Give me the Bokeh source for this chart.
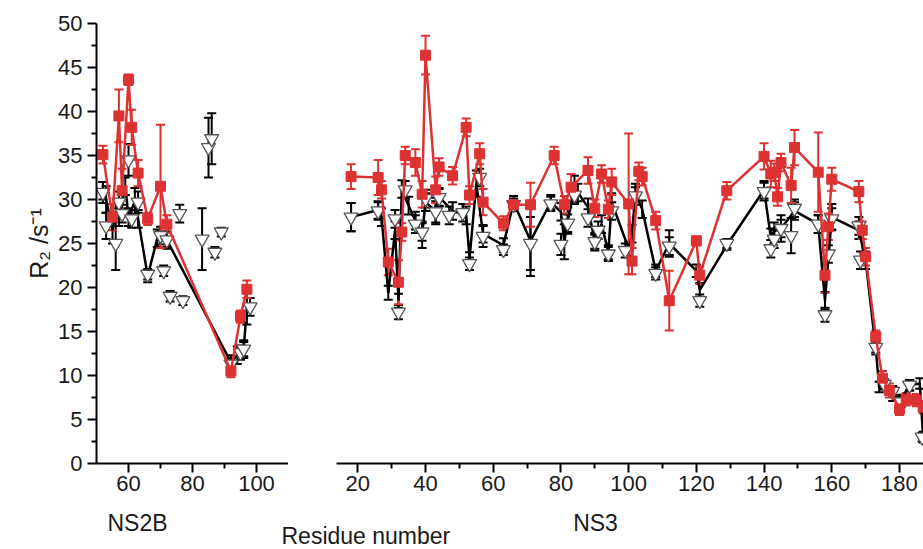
import numpy as np
from bokeh.plotting import figure
from bokeh.models import ColumnDataSource, Whisker, TeeHead, FixedTicker, Label, Title, Range1d
from bokeh.layouts import row, column
from bokeh.embed import file_html
from bokeh.resources import INLINE

RED = "#DD3232"
FONT = "Liberation Sans"
TXT = "#1a1a1a"

# ---------------- NS2B panel data ----------------
ns2b_red_x = [52, 55, 57, 58, 60, 61, 63, 66, 70, 72, 92, 95, 97]
ns2b_red_y = [35.1, 28.0, 39.5, 31.0, 43.6, 38.2, 33.0, 27.8, 31.5, 27.2, 10.5, 16.7, 19.8]
ns2b_red_err = [1.0, 1.5, 3.0, 2.5, 0.6, 2.0, 1.5, 0.7, 7.0, 1.0, 0.7, 0.7, 1.0]

ns2b_blk_x = [52, 53, 55, 56, 57, 58, 59, 60, 62, 63, 66, 69, 72, 92, 94, 96, 97]
ns2b_blk_y = [31.0, 30.0, 26.5, 28.5, 28.0, 29.5, 31.5, 28.0, 29.8, 27.8, 21.3, 25.6, 25.4, 11.5, 12.3, 13.0, 17.8]
ns2b_blk_err = [1.0, 1.5, 1.5, 1.0, 1.0, 1.0, 1.0, 1.0, 1.5, 1.0, 0.7, 1.0, 1.0, 0.8, 1.0, 1.0, 2.0]

ns2b_tri_x = [52, 53, 56, 57, 58, 60, 61, 63, 66, 70, 71, 72, 73, 76, 77, 83, 85, 86, 87, 89, 92, 95, 96, 98]
ns2b_tri_y = [30.8, 27.0, 25.0, 29.7, 28.4, 34.5, 27.8, 29.7, 21.5, 25.9, 21.9, 25.4, 19.0, 28.4, 18.5,
              25.5, 35.9, 36.9, 24.0, 26.3, 11.3, 12.6, 13.0, 17.8]
ns2b_tri_err = [1.2, 1.5, 3.0, 1.2, 1.0, 1.8, 1.0, 1.2, 0.6, 1.0, 0.6, 0.8, 0.6, 1.0, 0.5,
                3.5, 3.4, 2.9, 0.6, 0.5, 0.7, 0.8, 0.8, 1.0]

# ---------------- NS3 panel data ----------------
ns3_red_x = [18, 26, 27, 29, 32, 33, 34, 37, 39, 40, 43, 44, 48, 52, 53, 56, 57, 63, 66, 71,
             78, 81, 83, 88, 90, 92, 94, 95, 100, 101, 103, 104, 108, 112, 120, 121, 129,
             140, 142, 143, 144, 145, 148, 149, 156, 158, 159, 160, 168, 169, 170, 173,
             175, 177, 180, 182, 185, 187]
ns3_red_y = [32.6, 32.5, 31.1, 22.9, 20.6, 26.3, 35.0, 34.2, 30.6, 46.4, 31.1, 33.7, 32.7, 38.2,
             30.5, 35.2, 29.7, 27.3, 29.4, 29.4, 35.0, 29.4, 31.4, 33.3, 29.0, 32.9, 28.9, 32.0,
             29.5, 23.0, 33.2, 32.6, 27.6, 18.5, 25.3, 21.4, 31.0, 34.9, 32.9, 33.1, 30.3,
             34.2, 31.6, 35.9, 33.1, 21.4, 26.9, 32.3, 30.9, 26.5, 23.5, 14.4, 9.7, 8.3, 6.2,
             7.3, 7.2, 6.4]
ns3_red_err = [1.4, 2.0, 1.0, 1.5, 2.5, 1.0, 1.0, 1.5, 1.5, 2.2, 1.5, 1.0, 1.0, 1.0, 1.0, 1.2,
               1.5, 0.8, 0.5, 2.5, 1.0, 1.0, 1.5, 1.5, 1.0, 1.0, 1.0, 1.5, 8.0, 1.5, 1.0, 1.0,
               1.0, 3.4, 0.5, 1.0, 1.0, 1.5, 1.5, 1.0, 1.0, 1.0, 2.0, 2.0, 4.5, 2.0, 1.5, 1.3,
               1.2, 1.0, 1.0, 0.7, 0.8, 0.8, 0.7, 0.7, 0.7, 0.7]

ns3_blk_x = [18, 26, 27, 29, 31, 32, 33, 35, 37, 39, 40, 43, 44, 48, 52, 53, 55, 57, 63, 66,
             71, 77, 80, 81, 82, 84, 85, 88, 90, 92, 94, 95, 100, 101, 102, 104, 108, 112,
             120, 121, 129, 140, 142, 143, 145, 149, 156, 158, 160, 168, 170, 173, 174, 178,
             180, 183, 186, 187]
ns3_blk_y = [28.0, 28.8, 28.0, 19.4, 26.5, 18.5, 31.2, 29.3, 27.6, 26.0, 29.7, 28.7, 30.3, 28.7,
             28.2, 23.3, 31.8, 26.1, 24.8, 29.7, 25.3, 29.7, 28.6, 25.2, 27.6, 31.2, 30.8,
             29.1, 25.2, 27.2, 24.0, 29.7, 24.4, 26.1, 30.8, 28.9, 21.9, 25.0, 21.9, 19.7,
             24.8, 31.1, 25.7, 26.4, 26.7, 28.7, 27.2, 18.5, 28.0, 26.5, 23.1, 13.0, 8.7,
             7.9, 7.0, 8.9, 9.1, 3.0]
ns3_blk_err = [1.6, 1.0, 1.0, 0.8, 1.0, 0.8, 1.0, 1.0, 1.0, 1.5, 1.0, 1.5, 1.0, 1.0, 1.0, 0.7,
               1.5, 1.0, 0.8, 0.7, 4.0, 0.8, 1.0, 2.0, 1.5, 1.5, 1.0, 1.0, 1.0, 1.0, 0.8, 1.0,
               0.8, 1.0, 1.0, 1.0, 0.7, 1.5, 0.7, 0.8, 0.5, 1.0, 1.0, 1.0, 1.5, 1.0, 1.0, 1.0,
               1.5, 1.0, 1.0, 0.6, 0.6, 0.8, 0.8, 0.6, 0.6, 0.6]

ns3_tri_x = [18, 26, 31, 32, 34, 37, 39, 40, 43, 44, 47, 51, 53, 56, 57, 63, 66, 71, 77, 80,
             82, 84, 88, 90, 91, 94, 95, 99, 102, 108, 112, 121, 129, 140, 142, 143, 145,
             148, 149, 156, 158, 159, 160, 168, 168.5, 173, 175.5, 178, 180.5, 183, 186.7]
ns3_tri_y = [28.0, 28.7, 27.8, 17.2, 31.1, 27.2, 26.3, 30.1, 28.6, 30.2, 28.2, 28.5, 22.7, 32.5,
             25.8, 24.3, 29.4, 25.0, 29.5, 24.9, 27.3, 30.5, 27.9, 25.2, 26.5, 23.8, 28.7,
             24.2, 30.4, 21.6, 24.7, 18.5, 25.0, 30.9, 24.4, 25.5, 26.7, 25.9, 29.0, 27.2,
             16.9, 23.8, 27.8, 27.0, 23.1, 13.2, 9.0, 8.2, 7.0, 8.9, 3.0]
ns3_tri_err = [1.6, 1.0, 1.0, 0.8, 1.0, 1.0, 1.0, 1.0, 1.2, 1.0, 1.0, 1.0, 0.7, 1.0, 1.2, 0.6,
               0.7, 3.0, 0.8, 1.2, 1.0, 1.0, 1.0, 0.8, 1.0, 0.8, 1.0, 0.8, 1.0, 0.7, 1.0, 0.7,
               0.5, 1.0, 1.0, 1.0, 1.0, 2.0, 1.0, 1.0, 0.8, 1.0, 1.2, 1.0, 1.0, 0.6, 0.6,
               0.6, 0.6, 0.6, 0.5]

y_ticks = [0, 5, 10, 15, 20, 25, 30, 35, 40, 45, 50]
y_minor = [2.5, 7.5, 12.5, 17.5, 22.5, 27.5, 32.5, 37.5, 42.5, 47.5]
ns2b_ticks = [60, 80, 100]
ns2b_minor = [70, 90]
ns3_ticks = [20, 40, 60, 80, 100, 120, 140, 160, 180]
ns3_minor = [30, 50, 70, 90, 110, 130, 150, 170]

y_title = "R\u2082 /s\u207b\u00b9"
x_title = "Residue number"
panel_names = ["NS2B", "NS3"]


def errbars(p, xs, ys, es, color, w=2.0, head=9):
    ys = np.asarray(ys, dtype=float)
    es = np.asarray(es, dtype=float)
    src = ColumnDataSource(dict(x=xs, lo=ys - es, hi=ys + es))
    wk = Whisker(source=src, base="x", upper="hi", lower="lo",
                 line_color=color, line_width=w,
                 upper_head=TeeHead(size=head, line_color=color, line_width=w),
                 lower_head=TeeHead(size=head, line_color=color, line_width=w))
    p.add_layout(wk)


def draw_panel(p, rx, ry, re, bx, by, be, tx, ty, te):
    errbars(p, tx, ty, te, "black")
    errbars(p, bx, by, be, "black")
    p.line(bx, by, line_color="black", line_width=2.5)
    p.scatter(tx, ty, marker="inverted_triangle", size=14, fill_color="white",
              line_color="#555555", line_width=1.3)
    errbars(p, rx, ry, re, RED)
    p.line(rx, ry, line_color=RED, line_width=2.5)
    p.scatter(rx, ry, marker="square", size=10, fill_color=RED, line_color=RED)


def style_axes(ax, ticks, minor, size, standoff):
    ax.ticker = FixedTicker(ticks=ticks, minor_ticks=minor)
    ax.axis_line_width = 2
    ax.axis_line_color = "black"
    ax.major_tick_line_width = 2
    ax.minor_tick_line_width = 2
    ax.major_tick_out = 9
    ax.major_tick_in = 0
    ax.minor_tick_out = 5
    ax.minor_tick_in = 0
    ax.major_label_text_font = FONT
    ax.major_label_text_font_size = size
    ax.major_label_text_color = TXT
    ax.major_label_standoff = standoff


MAIN_H = 505

# ---------------- left panel (NS2B) ----------------
p1 = figure(width=288, height=MAIN_H, x_range=(50, 110), y_range=(0, 50),
            min_border_left=96, min_border_right=0, min_border_top=23, min_border_bottom=MAIN_H - 23 - 440,
            output_backend="svg", toolbar_location=None)
p1.outline_line_color = None
p1.xgrid.grid_line_color = None
p1.ygrid.grid_line_color = None
draw_panel(p1, ns2b_red_x, ns2b_red_y, ns2b_red_err, ns2b_blk_x, ns2b_blk_y, ns2b_blk_err,
           ns2b_tri_x, ns2b_tri_y, ns2b_tri_err)
style_axes(p1.xaxis[0], ns2b_ticks, ns2b_minor, "22px", 3)
style_axes(p1.yaxis[0], y_ticks, y_minor, "22px", 5)
p1.add_layout(Title(text=y_title, align="center", offset=27, standoff=6,
                    text_font=FONT, text_font_size="25px", text_font_style="normal",
                    text_color=TXT), "left")

# ---------------- right panel (NS3) ----------------
p2 = figure(width=635, height=MAIN_H, x_range=(13.7, 187.1), y_range=(0, 50),
            min_border_left=48, min_border_right=0, min_border_top=23, min_border_bottom=MAIN_H - 23 - 440,
            output_backend="svg", toolbar_location=None, y_axis_location=None)
p2.outline_line_color = None
p2.xgrid.grid_line_color = None
p2.ygrid.grid_line_color = None
draw_panel(p2, ns3_red_x, ns3_red_y, ns3_red_err, ns3_blk_x, ns3_blk_y, ns3_blk_err,
           ns3_tri_x, ns3_tri_y, ns3_tri_err)
style_axes(p2.xaxis[0], ns3_ticks, ns3_minor, "22px", 3)

# ---------------- strip holding the axis titles ----------------
STRIP_H = 549 - MAIN_H
p3 = figure(width=923, height=STRIP_H, x_range=Range1d(0, 923), y_range=Range1d(0, STRIP_H),
            min_border=0, output_backend="svg", toolbar_location=None, title=None,
            x_axis_location=None, y_axis_location=None)
p3.outline_line_color = None
p3.xgrid.grid_line_color = None
p3.ygrid.grid_line_color = None
p3.add_layout(Label(x=137, y=27, text=panel_names[0], text_align="center",
                    text_baseline="alphabetic", text_font=FONT, text_font_size="23px", text_color=TXT))
p3.add_layout(Label(x=595, y=27, text=panel_names[1], text_align="center",
                    text_baseline="alphabetic", text_font=FONT, text_font_size="23px", text_color=TXT))
p3.add_layout(Label(x=281, y=14, text=x_title, text_align="left",
                    text_baseline="alphabetic", text_font=FONT, text_font_size="23px", text_color=TXT))

layout = column(row(p1, p2), p3)
open("out.html", "w").write(file_html(layout, INLINE))
